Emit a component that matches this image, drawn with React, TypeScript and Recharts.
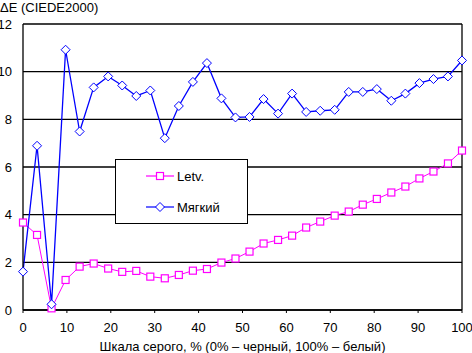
import { CartesianGrid, Line, LineChart, ReferenceLine, XAxis, YAxis } from "recharts";

const grayLevels = [
  0, 3.2, 6.5, 9.7, 12.9, 16.1, 19.4, 22.6, 25.8, 29.0, 32.3, 35.5, 38.7, 41.9, 45.2, 48.4,
  51.6, 54.8, 58.1, 61.3, 64.5, 67.7, 71.0, 74.2, 77.4, 80.6, 83.9, 87.1, 90.3, 93.5, 96.8, 100,
];
const letv = [
  3.67, 3.15, 0.07, 1.26, 1.82, 1.95, 1.74, 1.6, 1.64, 1.4, 1.33, 1.47, 1.65, 1.72, 1.99, 2.16,
  2.45, 2.79, 2.94, 3.12, 3.46, 3.71, 3.96, 4.13, 4.42, 4.66, 4.93, 5.18, 5.52, 5.81, 6.15, 6.69,
];
const soft = [
  1.61, 6.89, 0.24, 10.92, 7.49, 9.34, 9.8, 9.42, 8.98, 9.21, 7.21, 8.56, 9.57, 10.36, 8.88, 8.08,
  8.1, 8.85, 8.24, 9.08, 8.31, 8.36, 8.4, 9.15, 9.15, 9.27, 8.78, 9.08, 9.52, 9.69, 9.8, 10.47,
];
const xTicks = [0, 10, 20, 30, 40, 50, 60, 70, 80, 90, 100];
const yTicks = [0, 2, 4, 6, 8, 10, 12];

const data = grayLevels.map((x, i) => ({ x, letv: letv[i], soft: soft[i] }));

const FONT = "'Liberation Sans', Arial, sans-serif";
const MAGENTA = "#ff00ff";
const BLUE = "#0000ff";

function Square({ cx, cy }: { cx?: number; cy?: number }) {
  if (cx == null || cy == null) return null;
  return <rect x={cx - 3.5} y={cy - 3.5} width={7} height={7} fill="#fff" stroke={MAGENTA} strokeWidth={1.2} />;
}

function Diamond({ cx, cy }: { cx?: number; cy?: number }) {
  if (cx == null || cy == null) return null;
  return (
    <polygon
      points={`${cx},${cy - 4.5} ${cx + 4.5},${cy} ${cx},${cy + 4.5} ${cx - 4.5},${cy}`}
      fill="#fff"
      stroke={BLUE}
      strokeWidth={1}
    />
  );
}

// plain svg text so the narrow axis doesn't squeeze the labels
function YTick({ x, y, payload }: any) {
  return (
    <text x={x} y={y} dy={4.5} textAnchor="end" fontFamily={FONT} fontSize={13} fill="#000">
      {payload.value}
    </text>
  );
}

// legend box sits inside the plot, over the gridlines
function LegendBox() {
  const rows = [
    { label: "Letv.", color: MAGENTA, marker: "square", y: 17 },
    { label: "Мягкий", color: BLUE, marker: "diamond", y: 48 },
  ];
  return (
    <svg width={133} height={65} style={{ display: "block" }}>
      <rect x={0.5} y={0.5} width={132} height={64} fill="#fff" stroke="#000" />
      {rows.map((r) => (
        <g key={r.label}>
          <line x1={31} x2={59} y1={r.y} y2={r.y} stroke={r.color} strokeWidth={1.2} />
          {r.marker === "square" ? (
            <rect x={41.5} y={r.y - 3.5} width={7} height={7} fill="#fff" stroke={r.color} strokeWidth={1.2} />
          ) : (
            <polygon
              points={`45,${r.y - 4.5} 49.5,${r.y} 45,${r.y + 4.5} 40.5,${r.y}`}
              fill="#fff"
              stroke={r.color}
            />
          )}
          <text x={62} y={r.y + 4.5} fontFamily={FONT} fontSize={13} fill="#000">
            {r.label}
          </text>
        </g>
      ))}
    </svg>
  );
}

export default function App() {
  return (
    <div style={{ position: "absolute", left: 0, top: 0, width: 472, height: 353, background: "#fff" }}>
      <LineChart width={472} height={353} data={data} margin={{ top: 24, right: 10, left: 0, bottom: 0 }}>
        <CartesianGrid vertical={false} stroke="#000" strokeWidth={1.3} />
        <XAxis
          dataKey="x"
          type="number"
          domain={[0, 100]}
          ticks={xTicks}
          interval={0}
          height={43}
          tickSize={3}
          tickMargin={10}
          axisLine={{ stroke: "#000", strokeWidth: 1.3 }}
          tickLine={{ stroke: "#000" }}
          tick={{ fill: "#000", fontFamily: FONT, fontSize: 13 }}
          label={{
            value: "Шкала серого, % (0% – черный, 100% – белый)",
            position: "insideBottom",
            offset: 2,
            fill: "#000",
            fontFamily: FONT,
            fontSize: 13,
          }}
        />
        <YAxis
          domain={[0, 12]}
          ticks={yTicks}
          interval={0}
          width={23}
          tickLine={false}
          tickMargin={5}
          axisLine={{ stroke: "#000", strokeWidth: 1.3 }}
          tick={<YTick />}
        />
        <ReferenceLine x={100} stroke="#000" strokeWidth={1.3} />
        <Line
          dataKey="letv"
          name="Letv."
          stroke={MAGENTA}
          strokeWidth={1}
          dot={<Square />}
          isAnimationActive={false}
        />
        <Line
          dataKey="soft"
          name="Мягкий"
          stroke={BLUE}
          strokeWidth={1.3}
          dot={<Diamond />}
          isAnimationActive={false}
        />
      </LineChart>
      <div
        style={{
          position: "absolute",
          left: 0,
          top: 0,
          fontFamily: FONT,
          fontSize: 13,
          lineHeight: "15px",
          color: "#000",
        }}
      >
        ΔE (CIEDE2000)
      </div>
      <div style={{ position: "absolute", left: 115, top: 159 }}>
        <LegendBox />
      </div>
    </div>
  );
}
